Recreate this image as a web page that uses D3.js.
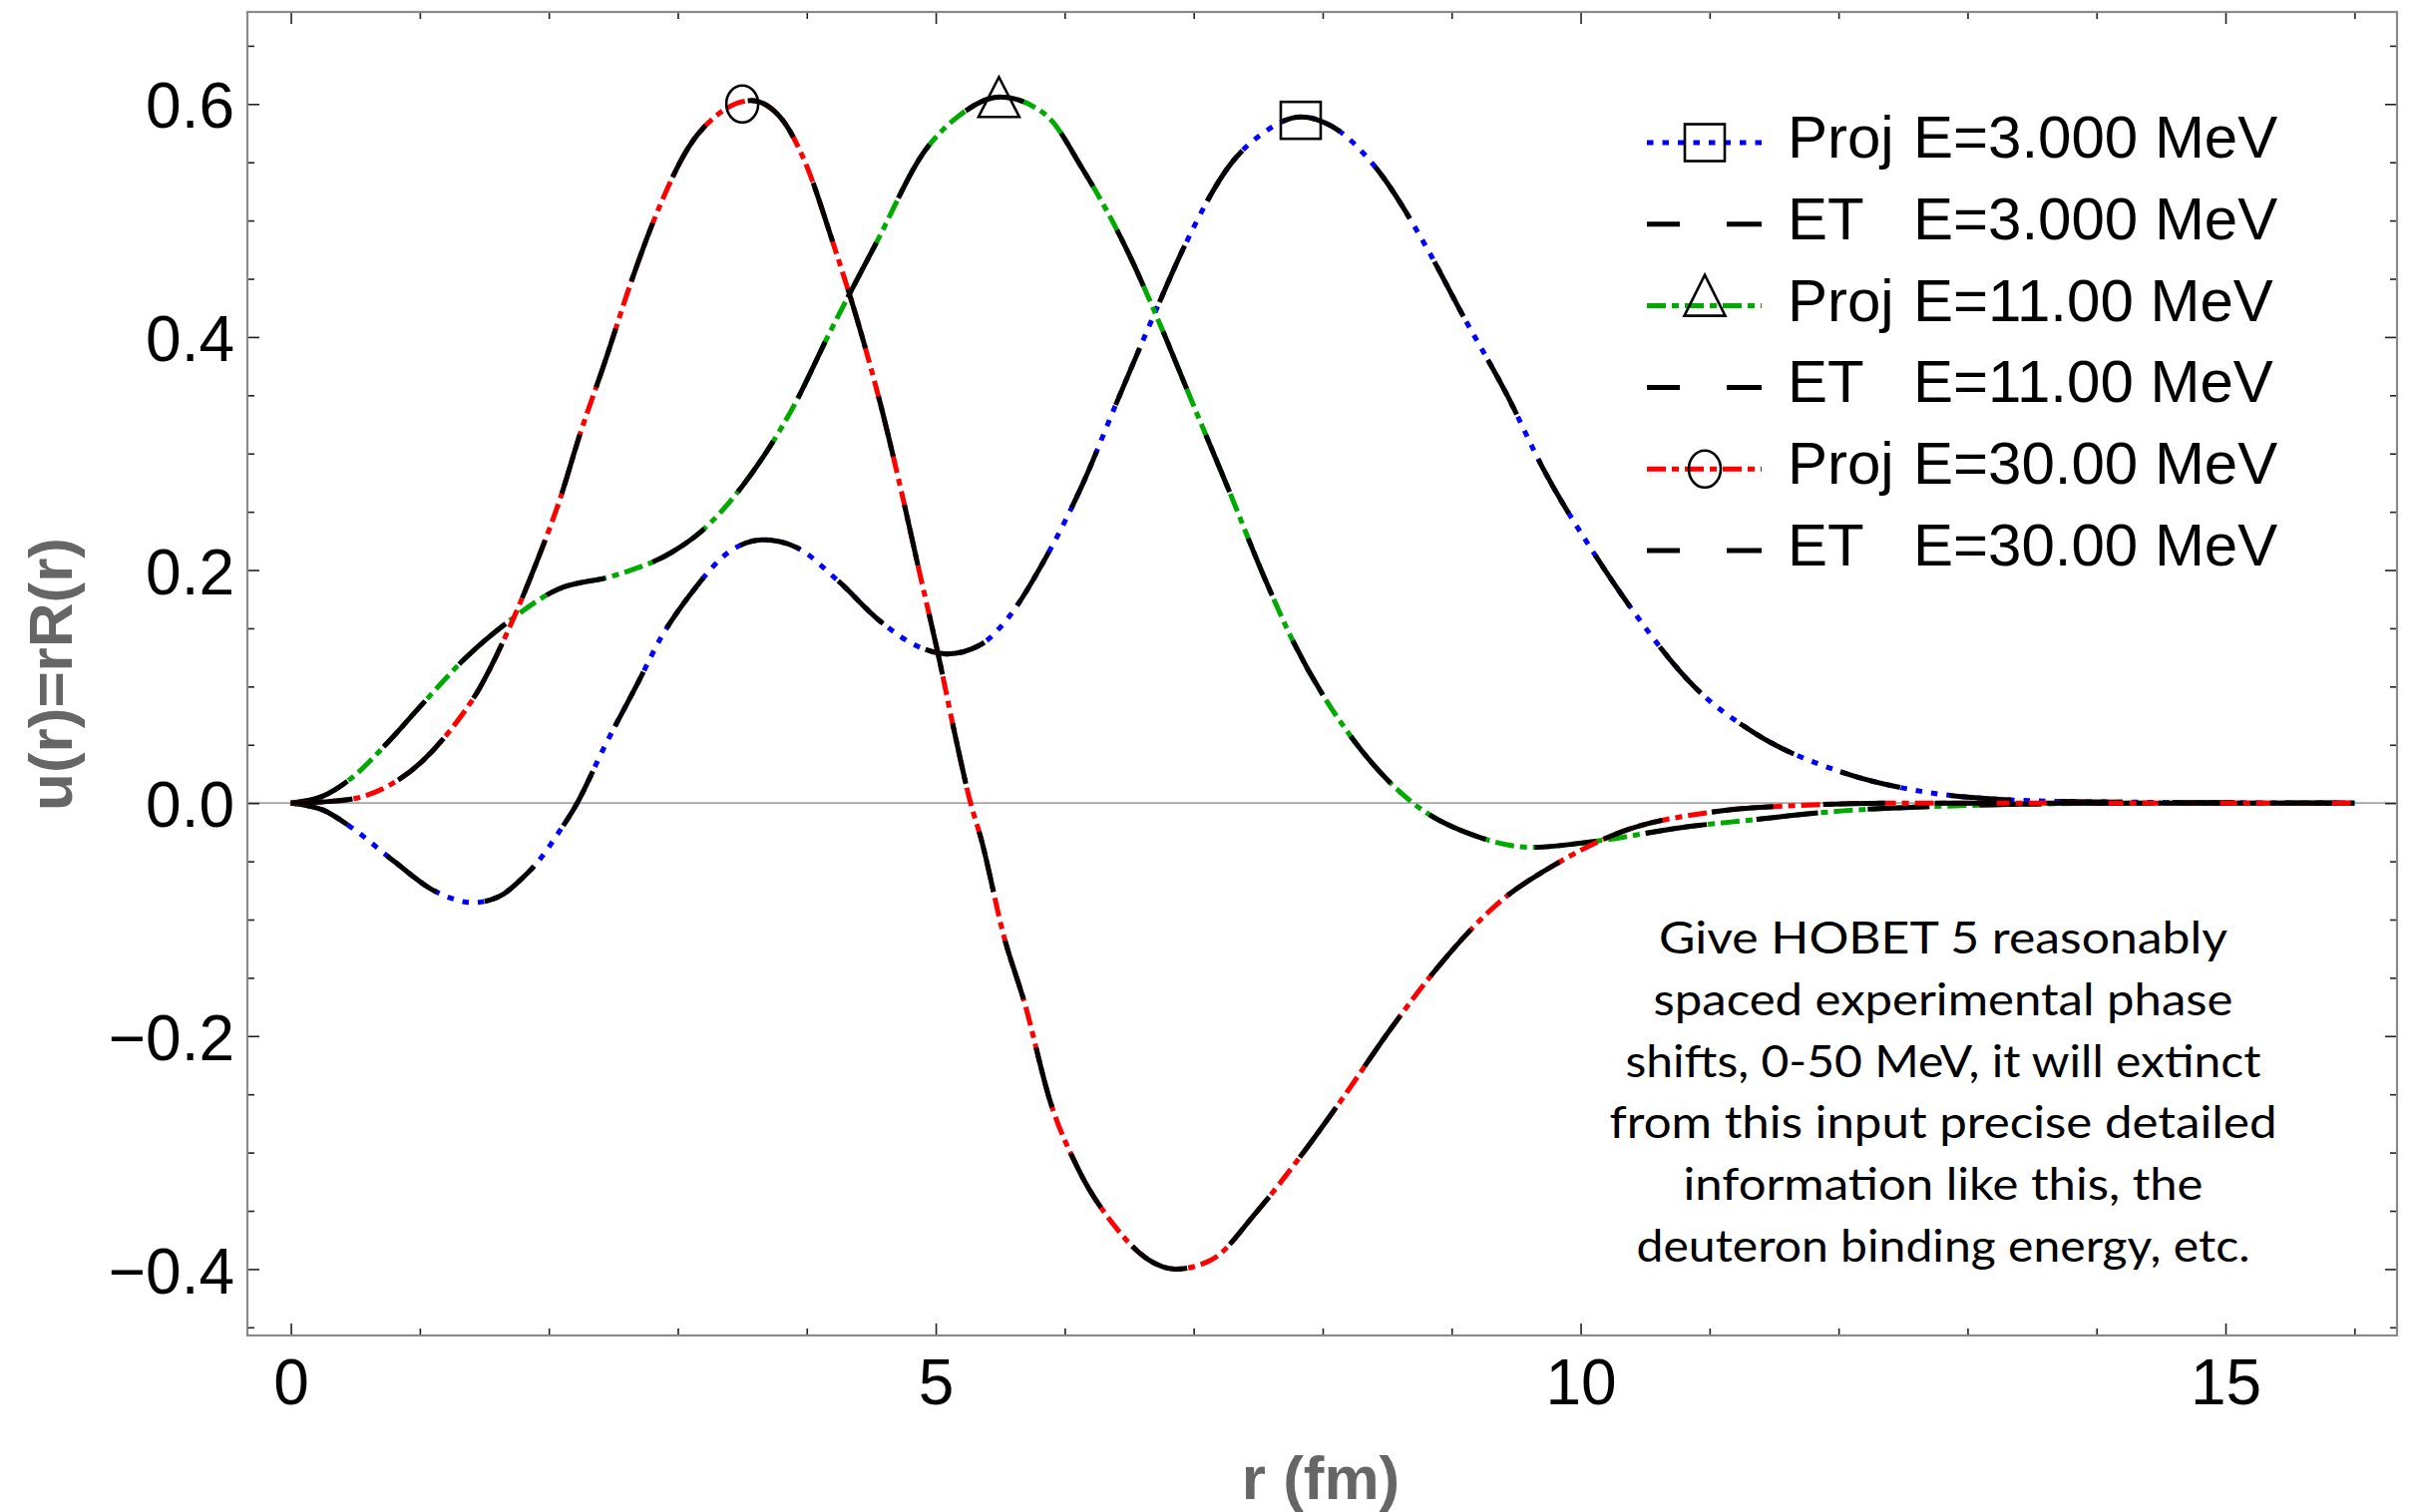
<!DOCTYPE html>
<html>
<head>
<meta charset="utf-8">
<script src="https://cdn.jsdelivr.net/npm/d3@7"></script>
<style>
  html, body { margin: 0; padding: 0; background: #fff; }
  svg { display: block; }
</style>
</head>
<body>
<svg id="chart" width="2419" height="1516"></svg>
<script>
// ---------------- data ----------------
const r3 = [0, 0.25, 0.47, 0.8, 1.09, 1.25, 1.41, 1.55, 1.65, 1.76, 1.94, 2.06, 2.22, 2.43, 2.69, 2.87, 3.09, 3.43, 3.67, 3.91, 4.24, 4.57, 4.87, 5.09, 5.35, 5.54, 5.85, 6.14, 6.40, 6.70, 6.92, 7.29, 7.55, 7.83, 8.07, 8.40, 8.81, 9.07, 9.44, 9.70, 10.10, 10.40, 10.88, 11.35, 12.04, 12.59, 13.28, 13.97, 16];
const u3 = [0, -0.006, -0.021, -0.050, -0.074, -0.082, -0.0855, -0.083, -0.078, -0.068, -0.047, -0.028, 0.0, 0.048, 0.103, 0.142, 0.178, 0.218, 0.226, 0.220, 0.191, 0.156, 0.134, 0.128, 0.136, 0.156, 0.210, 0.274, 0.343, 0.421, 0.476, 0.549, 0.576, 0.589, 0.581, 0.547, 0.476, 0.422, 0.348, 0.289, 0.215, 0.166, 0.100, 0.060, 0.026, 0.011, 0.003, 0.001, 0];

const r11 = [0, 0.25, 0.465, 0.76, 1.02, 1.35, 1.69, 2.06, 2.50, 2.95, 3.17, 3.50, 3.91, 4.17, 4.54, 4.91, 5.17, 5.50, 5.85, 6.14, 6.52, 6.70, 7.03, 7.26, 7.55, 7.77, 8.18, 8.51, 8.70, 9.18, 9.62, 10.10, 10.85, 11.28, 12.04, 12.73, 13.4, 14.5, 16];
const u11 = [0, 0.006, 0.021, 0.053, 0.085, 0.124, 0.156, 0.183, 0.195, 0.215, 0.232, 0.272, 0.343, 0.402, 0.481, 0.559, 0.589, 0.606, 0.591, 0.544, 0.466, 0.421, 0.333, 0.272, 0.193, 0.139, 0.063, 0.019, 0.0, -0.028, -0.038, -0.033, -0.020, -0.015, -0.0066, -0.003, -0.001, 0.0, 0];

const r30 = [0, 0.25, 0.50, 0.76, 1.02, 1.24, 1.46, 1.72, 1.91, 2.09, 2.24, 2.43, 2.65, 2.87, 3.09, 3.31, 3.57, 3.80, 3.98, 4.20, 4.43, 4.57, 4.72, 4.87, 5.02, 5.17, 5.27, 5.35, 5.53, 5.69, 5.89, 6.10, 6.38, 6.65, 6.86, 7.14, 7.48, 7.83, 8.17, 8.52, 8.93, 9.35, 9.83, 10.31, 11.0, 11.7, 12.5, 14, 16];
const u30 = [0, 0.001, 0.004, 0.015, 0.036, 0.063, 0.098, 0.157, 0.208, 0.262, 0.316, 0.377, 0.451, 0.515, 0.564, 0.591, 0.603, 0.588, 0.552, 0.482, 0.400, 0.343, 0.274, 0.200, 0.127, 0.048, 0.0, -0.030, -0.115, -0.172, -0.257, -0.313, -0.362, -0.392, -0.400, -0.392, -0.352, -0.303, -0.251, -0.195, -0.136, -0.087, -0.051, -0.025, -0.008, -0.002, 0.0, 0, 0];

// ET curves coincide with the projected ones at this scale
const etU3 = u3, etU11 = u11, etU30 = u30;

const energies = ["E=3.000 MeV", "E=11.00 MeV", "E=30.00 MeV"];
const markerR = [7.83, 5.49, 3.50];
const markerU = [0.586, 0.606, 0.600];

const xMajorTicks = [0, 5, 10, 15];
const xMinorTicks = [1, 2, 3, 4, 6, 7, 8, 9, 11, 12, 13, 14, 16];
const yMajorTicks = [-0.4, -0.2, 0.0, 0.2, 0.4, 0.6];
const yMinorTicks = [-0.45, -0.35, -0.3, -0.25, -0.15, -0.1, -0.05, 0.05, 0.1, 0.15, 0.25, 0.3, 0.35, 0.45, 0.5, 0.55, 0.65];
const yTickLabels = ["\u22120.4", "\u22120.2", "0.0", "0.2", "0.4", "0.6"];

const annotation = [
  "Give HOBET 5 reasonably",
  "spaced experimental phase",
  "shifts, 0-50 MeV, it will extinct",
  "from this input precise detailed",
  "information like this, the",
  "deuteron binding energy, etc."
];
const annotationWidths = [570, 581, 637, 669, 521, 615];

// ---------------- layout ----------------
const L = 248, R = 2403, T = 12, B = 1339;
const svg = d3.select("#chart");
const x = d3.scaleLinear().domain([-0.337, 16.33]).range([L, R]);
const y = d3.scaleLinear().domain([-0.457, 0.679]).range([B, T]);

const COLORS = ["#0000ff", "#00aa00", "#ff0000"];
const PROJ_DASH = ["6.5 9", "19 6 7 6", "19 6 7 6"];
const ET_DASH = "62 50";
const LW = 5;

svg.append("defs").append("clipPath").attr("id", "clip")
  .append("rect").attr("x", L).attr("y", T).attr("width", R - L).attr("height", B - T);

// zero axis line
svg.append("line")
  .attr("x1", L).attr("x2", R).attr("y1", y(0)).attr("y2", y(0))
  .attr("stroke", "#a6a6a6").attr("stroke-width", 1.6);

// ---------------- axes ----------------
const tickFont = "'Liberation Sans', Arial, sans-serif";
function styleAxis(g) {
  g.select(".domain").remove();
  g.selectAll(".tick line").attr("stroke", "#222").attr("stroke-width", 1.6);
  g.selectAll("text").attr("font-family", tickFont).attr("font-size", 64).attr("fill", "#000");
}
// bottom
svg.append("g").attr("transform", `translate(0,${B})`)
  .call(d3.axisBottom(x).tickValues(xMajorTicks).tickSize(-12).tickPadding(24).tickFormat(d3.format("d")))
  .call(styleAxis);
svg.append("g").attr("transform", `translate(0,${B})`)
  .call(d3.axisBottom(x).tickValues(xMinorTicks).tickSize(-7).tickFormat(""))
  .call(styleAxis);
// top
svg.append("g").attr("transform", `translate(0,${T})`)
  .call(d3.axisTop(x).tickValues(xMajorTicks).tickSize(-12).tickFormat(""))
  .call(styleAxis);
svg.append("g").attr("transform", `translate(0,${T})`)
  .call(d3.axisTop(x).tickValues(xMinorTicks).tickSize(-7).tickFormat(""))
  .call(styleAxis);
// left
const yLab = d3.scaleOrdinal().domain(yMajorTicks).range(yTickLabels);
svg.append("g").attr("transform", `translate(${L},0)`)
  .call(d3.axisLeft(y).tickValues(yMajorTicks).tickSize(-12).tickPadding(13).tickFormat(d => yLab(d)))
  .call(styleAxis)
  .call(g => g.selectAll("text").attr("dy", "0.37em"));
svg.append("g").attr("transform", `translate(${L},0)`)
  .call(d3.axisLeft(y).tickValues(yMinorTicks).tickSize(-7).tickFormat(""))
  .call(styleAxis);
// right
svg.append("g").attr("transform", `translate(${R},0)`)
  .call(d3.axisRight(y).tickValues(yMajorTicks).tickSize(-12).tickFormat(""))
  .call(styleAxis);
svg.append("g").attr("transform", `translate(${R},0)`)
  .call(d3.axisRight(y).tickValues(yMinorTicks).tickSize(-7).tickFormat(""))
  .call(styleAxis);

// frame
svg.append("rect").attr("x", L).attr("y", T).attr("width", R - L).attr("height", B - T)
  .attr("fill", "none").attr("stroke", "#8a8a8a").attr("stroke-width", 2.2);

// axis labels
svg.append("text")
  .attr("transform", `translate(72,676) rotate(-90)`)
  .attr("text-anchor", "middle")
  .attr("font-family", tickFont).attr("font-weight", "bold").attr("font-size", 62)
  .attr("fill", "#666").text("u(r)=rR(r)");
svg.append("text")
  .attr("x", 1324).attr("y", 1503)
  .attr("text-anchor", "middle")
  .attr("font-family", tickFont).attr("font-weight", "bold").attr("font-size", 62)
  .attr("fill", "#666").text("r (fm)");

// ---------------- curves ----------------
const line = d3.line().x(d => x(d[0])).y(d => y(d[1])).curve(d3.curveMonotoneX);
const series = [
  { r: r3, proj: u3, et: etU3 },
  { r: r11, proj: u11, et: etU11 },
  { r: r30, proj: u30, et: etU30 }
];
const plot = svg.append("g").attr("clip-path", "url(#clip)");
series.forEach((s, i) => {
  plot.append("path")
    .attr("d", line(s.r.map((rv, k) => [rv, s.proj[k]])))
    .attr("fill", "none").attr("stroke", COLORS[i]).attr("stroke-width", LW)
    .attr("stroke-dasharray", PROJ_DASH[i]).attr("stroke-linecap", "butt");
  plot.append("path")
    .attr("d", line(s.r.map((rv, k) => [rv, s.et[k]])))
    .attr("fill", "none").attr("stroke", "#000").attr("stroke-width", LW)
    .attr("stroke-dasharray", ET_DASH).attr("stroke-linecap", "butt");
});

// ---------------- markers ----------------
function drawMarker(g, kind, cx, cy, legend) {
  const st = sel => sel.attr("fill", "none").attr("stroke", "#000").attr("stroke-width", 2.6);
  if (kind === 0) {
    g.append("rect").attr("x", cx - 20).attr("y", cy - 18.5).attr("width", 40).attr("height", 37).call(st);
  } else if (kind === 1) {
    const top = legend ? cy - 31 : cy - 20, bot = legend ? cy + 10 : cy + 20;
    g.append("path").attr("d", `M${cx},${top}L${cx + 20.5},${bot}L${cx - 20.5},${bot}Z`).call(st);
  } else {
    g.append("ellipse").attr("cx", cx).attr("cy", cy).attr("rx", 16).attr("ry", 18.5).call(st);
  }
}
markerR.forEach((mr, i) => drawMarker(svg, i, x(mr), y(markerU[i]), false));

// ---------------- legend ----------------
const legendRows = [];
energies.forEach((e, i) => {
  legendRows.push({ name: "Proj", energy: e, kind: "proj", idx: i });
  legendRows.push({ name: "ET", energy: e, kind: "et", idx: i });
});
const lg = svg.append("g");
legendRows.forEach((row, j) => {
  const ly = 143 + j * 81.8;
  const g = lg.append("g");
  if (row.kind === "proj") {
    g.append("line").attr("x1", 1651).attr("x2", 1766).attr("y1", ly).attr("y2", ly)
      .attr("stroke", COLORS[row.idx]).attr("stroke-width", LW)
      .attr("stroke-dasharray", PROJ_DASH[row.idx]);
    drawMarker(g, row.idx, 1709, ly, true);
  } else {
    g.append("line").attr("x1", 1651).attr("x2", 1766).attr("y1", ly).attr("y2", ly)
      .attr("stroke", "#000").attr("stroke-width", LW)
      .attr("stroke-dasharray", "66 47").attr("stroke-dashoffset", 33);
  }
  const t = g.append("text").attr("y", ly + 15)
    .attr("font-family", tickFont).attr("font-size", 60).attr("fill", "#000");
  t.append("tspan").attr("x", 1792).text(row.name);
  t.append("tspan").attr("x", 1918).text(row.energy);
});

// ---------------- annotation ----------------
const ann = svg.append("g");
annotation.forEach((txt, i) => {
  ann.append("text")
    .attr("x", 1948).attr("y", 956 + i * 61.8)
    .attr("text-anchor", "middle")
    .attr("font-family", "Lato, 'Open Sans', sans-serif").attr("font-size", 44)
    .attr("textLength", annotationWidths[i]).attr("lengthAdjust", "spacingAndGlyphs")
    .attr("fill", "#000").text(txt);
});
</script>
</body>
</html>
